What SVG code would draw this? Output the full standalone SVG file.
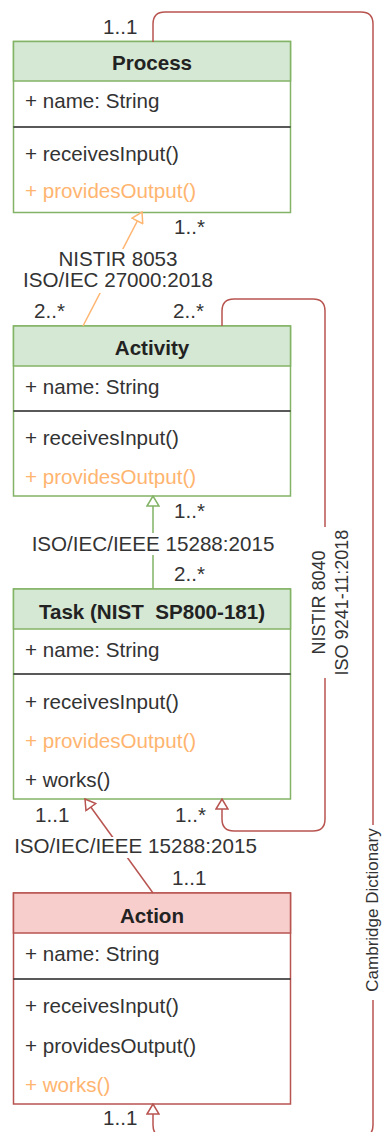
<svg xmlns="http://www.w3.org/2000/svg" width="382" height="1132" viewBox="0 0 382 1132">
<style>
text{font-family:"Liberation Sans",Arial,sans-serif;font-size:20.6px;fill:#333}
.t{font-weight:bold;text-anchor:middle;fill:#222}
.o{fill:#FFB570}
.c{text-anchor:middle}
.r{font-size:18px}
.gb{fill:#fff;stroke:#82b366;stroke-width:1.5}
.gh{fill:#d5e8d4;stroke:#82b366;stroke-width:1.5}
.rb{fill:#fff;stroke:#b85450;stroke-width:1.5}
.rh{fill:#f8cecc;stroke:#b85450;stroke-width:1.5}
.sep{stroke:#222;stroke-width:1.5}
.e{fill:none;stroke-width:1.5}
.bg{fill:#fff}
</style>
<defs>
<marker id="ao" viewBox="0 0 12 14" refX="11" refY="7" markerWidth="12" markerHeight="14" markerUnits="userSpaceOnUse" orient="auto"><path d="M1,1 L11,7 L1,13 Z" fill="#fff" stroke="#FFB570" stroke-width="1.5"/></marker>
<marker id="ag" viewBox="0 0 12 14" refX="11" refY="7" markerWidth="12" markerHeight="14" markerUnits="userSpaceOnUse" orient="auto"><path d="M1,1 L11,7 L1,13 Z" fill="#fff" stroke="#82b366" stroke-width="1.5"/></marker>
<marker id="ar" viewBox="0 0 12 14" refX="11" refY="7" markerWidth="12" markerHeight="14" markerUnits="userSpaceOnUse" orient="auto"><path d="M1,1 L11,7 L1,13 Z" fill="#fff" stroke="#b85450" stroke-width="1.5"/></marker>
</defs>

<g id="process">
<rect class="gb" x="13.5" y="41.5" width="277" height="171"/>
<rect class="gh" x="13.5" y="41.5" width="277" height="39.5"/>
<text class="t" x="152" y="70">Process</text>
<text x="25" y="108">+ name: String</text>
<line class="sep" x1="13.5" y1="127" x2="290.5" y2="127"/>
<text x="25" y="161">+ receivesInput()</text>
<text class="o" x="25" y="198">+ providesOutput()</text>
</g>

<g id="activity">
<rect class="gb" x="13.5" y="326" width="277" height="170"/>
<rect class="gh" x="13.5" y="326" width="277" height="40"/>
<text class="t" x="152" y="355">Activity</text>
<text x="25" y="394">+ name: String</text>
<line class="sep" x1="13.5" y1="411" x2="290.5" y2="411"/>
<text x="25" y="445">+ receivesInput()</text>
<text class="o" x="25" y="484">+ providesOutput()</text>
</g>

<g id="task">
<rect class="gb" x="13.5" y="589" width="277" height="210"/>
<rect class="gh" x="13.5" y="589" width="277" height="40"/>
<text class="t" x="152" y="619" xml:space="preserve">Task (NIST  SP800-181)</text>
<text x="25" y="657">+ name: String</text>
<line class="sep" x1="13.5" y1="674" x2="290.5" y2="674"/>
<text x="25" y="709">+ receivesInput()</text>
<text class="o" x="25" y="748">+ providesOutput()</text>
<text x="25" y="787">+ works()</text>
</g>

<g id="action">
<rect class="rb" x="13.5" y="893" width="277" height="211"/>
<rect class="rh" x="13.5" y="893" width="277" height="40"/>
<text class="t" x="152" y="923">Action</text>
<text x="25" y="961">+ name: String</text>
<line class="sep" x1="13.5" y1="979" x2="290.5" y2="979"/>
<text x="25" y="1013">+ receivesInput()</text>
<text x="25" y="1053">+ providesOutput()</text>
<text class="o" x="25" y="1092">+ works()</text>
</g>

<g id="connectors">
<path class="e" stroke="#b85450" d="M153,42 L153,24 Q153,12 165,12 L361,12 Q373,12 373,24 L373,1125 Q373,1137 361,1137 L165,1137 Q153,1137 153,1125 L153,1104" marker-end="url(#ar)"/>
<path class="e" stroke="#FFB570" d="M83,326 L142,212" marker-end="url(#ao)"/>
<path class="e" stroke="#b85450" d="M222,326 L222,311 Q222,299 234,299 L313,299 Q325,299 325,311 L325,819 Q325,831 313,831 L234,831 Q222,831 222,819 L222,799" marker-end="url(#ar)"/>
<path class="e" stroke="#82b366" d="M153,589 L153,496" marker-end="url(#ag)"/>
<path class="e" stroke="#b85450" d="M153,893 L85,799" marker-end="url(#ar)"/>

<rect class="bg" x="18" y="249" width="200" height="44"/>
<text class="c" x="118" y="266">NISTIR 8053</text>
<text class="c" x="118" y="287">ISO/IEC 27000:2018</text>

<rect class="bg" x="26" y="533" width="254" height="22"/>
<text class="c" x="153" y="551">ISO/IEC/IEEE 15288:2015</text>

<rect class="bg" x="8" y="837" width="256" height="21"/>
<text class="c" x="135.5" y="853">ISO/IEC/IEEE 15288:2015</text>

<rect class="bg" x="306" y="527" width="46" height="151"/>
<g transform="translate(325,602.5) rotate(-90)">
<text class="c r" x="0" y="0">NISTIR 8040</text>
<text class="c r" x="0" y="23">ISO 9241-11:2018</text>
</g>

<rect class="bg" x="362" y="825" width="20" height="175"/>
<text class="c" style="font-size:17px" transform="translate(378,910) rotate(-90)">Cambridge Dictionary</text>

<text x="103" y="34">1..1</text>
<text x="174" y="234">1..*</text>
<text x="34" y="318">2..*</text>
<text x="173" y="318">2..*</text>
<text x="174" y="518">1..*</text>
<text x="174" y="581">2..*</text>
<text x="35" y="822">1..1</text>
<text x="175" y="822">1..*</text>
<text x="172" y="885">1..1</text>
<text x="103" y="1125">1..1</text>
</g>
</svg>
